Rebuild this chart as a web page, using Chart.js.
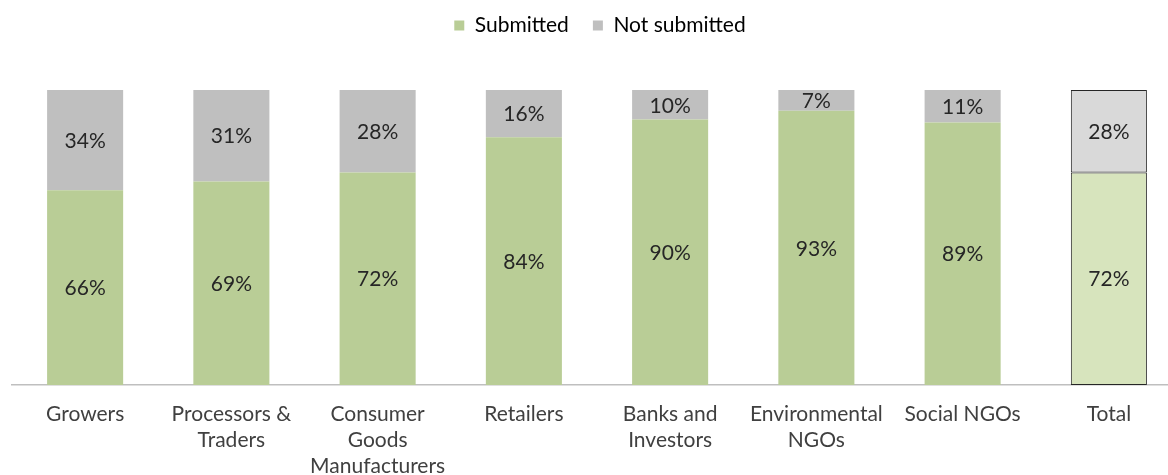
<!DOCTYPE html>
<html>
<head>
<meta charset="utf-8">
<script src="https://cdn.jsdelivr.net/npm/chart.js@4/dist/chart.umd.min.js"></script>
<style>
  html, body { margin: 0; padding: 0; background: #fff; overflow: hidden; }
  #wrap { position: relative; width: 1184px; height: 495px; }
</style>
</head>
<body>
<div id="wrap"><canvas id="chart"></canvas></div>
<script>
// Share of stakeholder groups that submitted, by group (percent)
const categories = [
  'Growers',
  ['Processors &', 'Traders'],
  ['Consumer', 'Goods', 'Manufacturers'],
  'Retailers',
  ['Banks and', 'Investors'],
  ['Environmental', 'NGOs'],
  'Social NGOs',
  'Total'
];
const submitted    = [66, 69, 72, 84, 90, 93, 89, 72];
const notSubmitted = [34, 31, 28, 16, 10, 7, 11, 28];

const TOTAL_INDEX = categories.length - 1;
const FONT = 'Lato, Carlito, "Open Sans", sans-serif';

const GREEN = '#B9CD96', GREEN_LIGHT = '#D7E4BD';
const GREY = '#BFBFBF', GREY_LIGHT = '#D9D9D9';

// Writes each segment's percentage in the middle of the segment
const segmentLabels = {
  id: 'segmentLabels',
  afterDatasetsDraw(chart) {
    const ctx = chart.ctx;
    ctx.save();
    ctx.font = '21px ' + FONT;
    ctx.fillStyle = '#262626';
    ctx.textAlign = 'center';
    ctx.textBaseline = 'middle';
    chart.data.datasets.forEach((ds, di) => {
      const meta = chart.getDatasetMeta(di);
      meta.data.forEach((bar, i) => {
        ctx.fillText(ds.data[i] + '%', bar.x, (bar.y + bar.base) / 2 + 1);
      });
    });
    ctx.restore();
  }
};

// Leaves extra room between the legend and the bars, and nudges the legend right
const legendGap = {
  id: 'legendGap',
  afterInit(chart) {
    const legend = chart.legend;
    if (!legend) return;
    const fit = legend.fit;
    legend.fit = function () {
      fit.call(this);
      this.height += 45;
    };
    const draw = legend.draw;
    legend.draw = function () {
      const ctx = this.ctx;
      ctx.save();
      ctx.translate(3, 1);
      draw.call(this);
      ctx.restore();
    };
  }
};

new Chart(document.getElementById('chart'), {
  type: 'bar',
  data: {
    labels: categories,
    datasets: [
      {
        label: 'Submitted',
        data: submitted,
        backgroundColor: c => c.dataIndex === TOTAL_INDEX ? GREEN_LIGHT : GREEN,
        borderColor: '#262626',
        borderWidth: c => c.dataIndex === TOTAL_INDEX ? 1 : 0,
        borderSkipped: false,
        categoryPercentage: 1,
        barPercentage: 0.52
      },
      {
        label: 'Not submitted',
        data: notSubmitted,
        backgroundColor: c => c.dataIndex === TOTAL_INDEX ? GREY_LIGHT : GREY,
        borderColor: '#262626',
        borderWidth: c => c.dataIndex === TOTAL_INDEX ? 1 : 0,
        borderSkipped: false,
        categoryPercentage: 1,
        barPercentage: 0.52
      }
    ]
  },
  options: {
    responsive: true,
    maintainAspectRatio: false,
    animation: false,
    layout: { padding: { left: 12, right: 2, top: -10, bottom: 0 } },
    plugins: {
      legend: {
        position: 'top',
        labels: {
          font: { family: FONT, size: 21 },
          color: '#404040',
          boxWidth: 10,
          boxHeight: 10,
          padding: 24,
          generateLabels: chart => chart.data.datasets.map((ds, i) => ({
            text: ds.label,
            fillStyle: i === 0 ? GREEN : GREY,
            strokeStyle: i === 0 ? GREEN : GREY,
            lineWidth: 0,
            datasetIndex: i
          }))
        }
      },
      tooltip: { enabled: false }
    },
    scales: {
      x: {
        stacked: true,
        grid: { display: false, drawTicks: false },
        border: { display: true, color: '#BFBFBF', width: 1.5 },
        ticks: {
          font: { family: FONT, size: 21, lineHeight: 1.24 },
          color: '#404040',
          padding: 16,
          maxRotation: 0,
          autoSkip: false
        }
      },
      y: {
        stacked: true,
        min: 0,
        max: 100,
        display: false
      }
    }
  },
  plugins: [segmentLabels, legendGap]
});
</script>
</body>
</html>
